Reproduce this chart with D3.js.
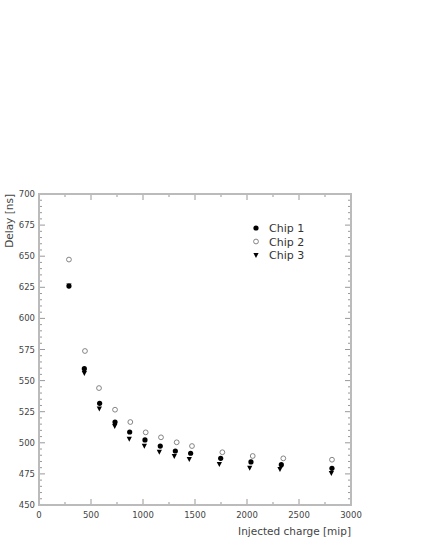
<!DOCTYPE html>
<html>
<head>
<meta charset="utf-8">
<script src="https://cdn.jsdelivr.net/npm/d3@7"></script>
<style>
  body { margin: 0; background: #fff; }
  svg { display: block; }
</style>
</head>
<body>
<svg id="chart" width="421" height="545"></svg>
<script>
// values
var chip1X = [288, 436, 583, 731, 872, 1019, 1166, 1311, 1458, 1747, 2038, 2330, 2817];
var chip1Y = [626, 559.6, 531.7, 516.7, 508.7, 502.3, 497.4, 493.4, 491.6, 487.5, 484.6, 482.4, 479.5];

var chip2X = [288, 442, 577, 731, 878, 1026, 1173, 1324, 1471, 1763, 2055, 2349, 2817];
var chip2Y = [647.3, 573.8, 544, 526.6, 516.7, 508.4, 504.4, 500.4, 497.4, 492.4, 489.4, 487.5, 486.4];

var chip3X = [288, 436, 580, 728, 868, 1013, 1157, 1301, 1445, 1734, 2026, 2317, 2811];
var chip3Y = [626.5, 556.1, 527.5, 513.5, 503.3, 497.7, 492.9, 489.4, 487.0, 483.0, 480.0, 478.9, 475.7];

var seriesNames = ["Chip 1", "Chip 2", "Chip 3"];
var xTicks = [0, 500, 1000, 1500, 2000, 2500, 3000];
var yTicks = [450, 475, 500, 525, 550, 575, 600, 625, 650, 675, 700];

var margin = {left: 39, right: 70, top: 194, bottom: 40};
var W = 421, H = 545;

var svg = d3.select("#chart");
var x = d3.scaleLinear().domain([0, 3000]).range([margin.left, W - margin.right]);
var y = d3.scaleLinear().domain([450, 700]).range([H - margin.bottom, margin.top]);

var frameColor = "#bbb";
var tickColor = "#999";
var fontFam = "'DejaVu Sans', sans-serif";

// ticks (inward, all four sides)
var g = svg.append("g");
var xMinor = d3.range(0, 3001, 250);
var yMinor = d3.range(450, 701, 5);

xMinor.forEach(function (v) {
    var len = (v % 500 == 0) ? 6 : 3;
    g.append("line").attr("x1", x(v)).attr("x2", x(v))
        .attr("y1", y(450)).attr("y2", y(450) - len)
        .attr("stroke", tickColor).attr("stroke-width", 1);
    g.append("line").attr("x1", x(v)).attr("x2", x(v))
        .attr("y1", y(700)).attr("y2", y(700) + len)
        .attr("stroke", tickColor).attr("stroke-width", 1);
});
yMinor.forEach(function (v) {
    var len = (v % 25 == 0) ? 6 : 3;
    g.append("line").attr("x1", x(0)).attr("x2", x(0) + len)
        .attr("y1", y(v)).attr("y2", y(v))
        .attr("stroke", tickColor).attr("stroke-width", 1);
    g.append("line").attr("x1", x(3000)).attr("x2", x(3000) - len)
        .attr("y1", y(v)).attr("y2", y(v))
        .attr("stroke", tickColor).attr("stroke-width", 1);
});

// frame
svg.append("rect")
    .attr("x", x(0)).attr("y", y(700))
    .attr("width", x(3000) - x(0)).attr("height", y(450) - y(700))
    .attr("fill", "none").attr("stroke", frameColor).attr("stroke-width", 2);

// tick labels
svg.selectAll("text.xt").data(xTicks).enter().append("text")
    .attr("class", "xt")
    .attr("x", function (d) { return x(d); })
    .attr("y", y(450) + 13)
    .attr("text-anchor", "middle")
    .style("font-family", fontFam).style("font-size", "8.5px").style("fill", "#444")
    .text(function (d) { return d; });

svg.selectAll("text.yt").data(yTicks).enter().append("text")
    .attr("class", "yt")
    .attr("x", x(0) - 4)
    .attr("y", function (d) { return y(d) + 3; })
    .attr("text-anchor", "end")
    .style("font-family", fontFam).style("font-size", "8.5px").style("fill", "#444")
    .text(function (d) { return d; });

// axis titles
svg.append("text")
    .attr("x", x(3000)).attr("y", y(450) + 30)
    .attr("text-anchor", "end")
    .style("font-family", fontFam).style("font-size", "10.5px").style("fill", "#444")
    .text("Injected charge [mip]");

svg.append("text")
    .attr("transform", "translate(13," + y(700) + ") rotate(-90)")
    .attr("text-anchor", "end")
    .style("font-family", fontFam).style("font-size", "10.5px").style("fill", "#444")
    .text("Delay [ns]");

// markers
function drawMarker(sel, kind) {
    if (kind == 0) {
        sel.append("circle").attr("r", 2.6).attr("fill", "#000");
    } else if (kind == 1) {
        sel.append("circle").attr("r", 2.4).attr("fill", "none")
            .attr("stroke", "#777").attr("stroke-width", 0.9);
    } else {
        sel.append("path").attr("d", "M-2.6,-2 L2.6,-2 L0,3 Z").attr("fill", "#000");
    }
}

var series = [
    {xs: chip1X, ys: chip1Y},
    {xs: chip2X, ys: chip2Y},
    {xs: chip3X, ys: chip3Y}
];

// draw chip3 first so filled circles sit on top
[2, 1, 0].forEach(function (k) {
    var s = series[k];
    s.xs.forEach(function (xv, i) {
        var m = svg.append("g").attr("transform", "translate(" + x(xv) + "," + y(s.ys[i]) + ")");
        drawMarker(m, k);
    });
});

// legend
seriesNames.forEach(function (name, k) {
    var ly = 228 + k * 13.5;
    var m = svg.append("g").attr("transform", "translate(256," + ly + ")");
    drawMarker(m, k);
    svg.append("text")
        .attr("x", 269).attr("y", ly + 4)
        .style("font-family", fontFam).style("font-size", "11px").style("fill", "#333")
        .text(name);
});
</script>
</body>
</html>
